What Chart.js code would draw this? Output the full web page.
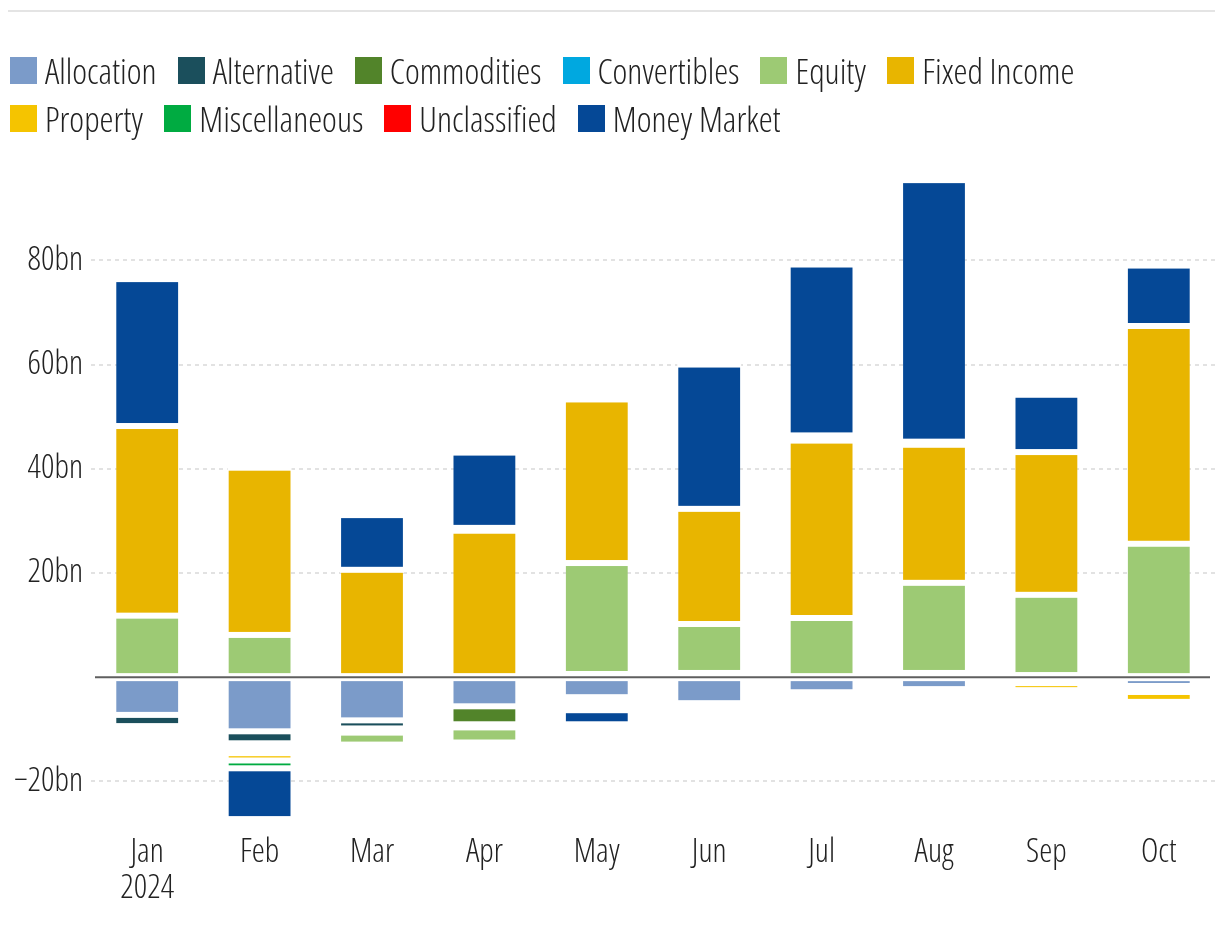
<!DOCTYPE html>
<html>
<head>
    <title>Monthly fund flows by category</title>
    <script src="https://cdn.jsdelivr.net/npm/chart.js"></script>
    <style>
        body {
            margin: 0;
            padding: 0;
            background-color: #ffffff;
            font-family: 'Open Sans', 'Noto Sans', sans-serif;
            font-stretch: condensed;
            font-weight: 300;
            color: #222222;
        }
        .wrap {
            position: relative;
            width: 1220px;
            height: 930px;
        }
        .top-rule {
            position: absolute;
            left: 8px;
            top: 10px;
            width: 1207px;
            height: 2px;
            background: #e4e4e4;
        }
        #legend {
            position: absolute;
            left: 10px;
            top: 56px;
            width: 1200px;
            display: flex;
            flex-wrap: wrap;
            z-index: 2;
        }
        .legend-item {
            display: flex;
            align-items: center;
            height: 28px;
            line-height: 28px;
            margin: 0 21px 20px 0;
            font-size: 35.3px;
            white-space: nowrap;
        }
        .legend-box {
            width: 27px;
            height: 27px;
            margin-right: 8px;
        }
        .legend-break {
            flex-basis: 100%;
            height: 0;
        }
        .chart-box {
            position: absolute;
            left: 0;
            top: 0;
            width: 1220px;
            height: 930px;
        }
    </style>
</head>
<body>
<div class="wrap">
    <div class="top-rule"></div>
    <div id="legend"></div>
    <div class="chart-box">
        <canvas id="flowChart"></canvas>
    </div>
</div>

<script>
    // months and the year shown under the first one
    const months = ['Jan', 'Feb', 'Mar', 'Apr', 'May', 'Jun', 'Jul', 'Aug', 'Sep', 'Oct'];
    const yearLabel = '2024';

    // net flows, bn
    const allocation    = [-7.25, -10.4, -8.3, -5.6, -3.85, -5.0, -2.9, -2.3, -1.15, -1.7];
    const alternative   = [-2.15, -2.3, -1.55, 0, -0.8, 0, 0, 0, 0, 0];
    const commodities   = [0, -0.95, -0.8, -3.45, -0.8, 0, 0, 0, 0, -1.15];
    const convertibles  = [0, -0.95, 0, -0.6, 0.6, 0.8, 0, 0.8, 0.4, 0];
    const equity        = [11.8, 8.1, -2.3, -2.9, 21.3, 9.4, 11.35, 17.3, 15.4, 25.6];
    const fixedIncome   = [36.4, 32.1, 20.6, 28.1, 31.4, 22.1, 34.05, 26.5, 27.4, 41.8];
    const property      = [0, -1.4, 0, 0.55, -0.9, 0, 1.0, 0.6, -1.35, -1.9];
    const miscellaneous = [0, -1.5, 0, 0, 0, 0, 0, 0, 0, 0];
    const unclassified  = [0, 0, 0, 0, 0, 0, 0, 0, 0, 0];
    const moneyMarket   = [28.2, -9.75, 10.5, 14.45, -2.7, 27.7, 32.8, 50.2, 11.0, 11.6];

    const seriesNames  = ['Allocation', 'Alternative', 'Commodities', 'Convertibles', 'Equity',
                          'Fixed Income', 'Property', 'Miscellaneous', 'Unclassified', 'Money Market'];
    const seriesValues = [allocation, alternative, commodities, convertibles, equity,
                          fixedIncome, property, miscellaneous, unclassified, moneyMarket];
    const seriesColors = ['#7b9bc9', '#1b4f5c', '#52842a', '#00a8e0', '#9dca74',
                          '#e8b500', '#f5c400', '#00ab41', '#ff0000', '#054896'];

    const yTickStep = 20;

    // legend (two rows, break after Fixed Income)
    const legendEl = document.getElementById('legend');
    seriesNames.forEach((name, i) => {
        const item = document.createElement('div');
        item.className = 'legend-item';
        const box = document.createElement('span');
        box.className = 'legend-box';
        box.style.background = seriesColors[i];
        item.appendChild(box);
        item.appendChild(document.createTextNode(name));
        legendEl.appendChild(item);
        if (i === 5) {
            const br = document.createElement('div');
            br.className = 'legend-break';
            legendEl.appendChild(br);
        }
    });

    // white gaps between stacked segments, zero line drawn on top
    const segmentGaps = {
        id: 'segmentGaps',
        afterDatasetsDraw(chart) {
            const ctx = chart.ctx;
            const gap = 3;
            ctx.save();
            ctx.fillStyle = '#ffffff';
            chart.data.datasets.forEach((ds, i) => {
                const meta = chart.getDatasetMeta(i);
                meta.data.forEach(bar => {
                    const p = bar.getProps(['x', 'y', 'base', 'width'], true);
                    const top = Math.min(p.y, p.base);
                    const bottom = Math.max(p.y, p.base);
                    const h = bottom - top;
                    if (h <= 0) return;
                    const left = p.x - p.width / 2 - 1;
                    const w = p.width + 2;
                    const outTop = Math.floor(top);
                    const outBottom = Math.ceil(bottom);
                    if (h <= 2 * gap) {
                        // too thin to show: blank it out in one go
                        ctx.fillRect(left, outTop, w, outBottom - outTop);
                    } else {
                        ctx.fillRect(left, outTop, w, top + gap - outTop);
                        ctx.fillRect(left, bottom - gap, w, outBottom - (bottom - gap));
                    }
                });
            });
            const y0 = chart.scales.y.getPixelForValue(0);
            ctx.strokeStyle = '#5f5f5f';
            ctx.lineWidth = 2;
            ctx.beginPath();
            ctx.moveTo(chart.chartArea.left + 4, y0);
            ctx.lineTo(chart.chartArea.right - 5, y0);
            ctx.stroke();
            ctx.restore();
        }
    };

    Chart.defaults.font.family = "'Open Sans', 'Noto Sans', sans-serif";
    Chart.defaults.font.weight = '300 condensed';
    Chart.defaults.color = '#222222';

    const ctx = document.getElementById('flowChart').getContext('2d');
    const chart = new Chart(ctx, {
        type: 'bar',
        data: {
            labels: months.map((m, i) => i === 0 ? [m, yearLabel] : m),
            datasets: seriesNames.map((name, i) => ({
                label: name,
                data: seriesValues[i],
                backgroundColor: seriesColors[i],
                borderWidth: 0,
                inflateAmount: 0,
                barPercentage: 0.55,
                categoryPercentage: 1
            }))
        },
        options: {
            responsive: true,
            maintainAspectRatio: false,
            animation: false,
            layout: {
                padding: { top: 177, right: 5, left: 0, bottom: 0 }
            },
            scales: {
                x: {
                    stacked: true,
                    grid: { display: false },
                    border: { display: false },
                    ticks: {
                        padding: 4,
                        font: { size: 33, lineHeight: 1.09 },
                        color: '#222222',
                        maxRotation: 0
                    },
                    afterFit: (scale) => { scale.height = 107; }
                },
                y: {
                    stacked: true,
                    min: -28,
                    max: 96,
                    afterBuildTicks: (axis) => {
                        axis.ticks = axis.ticks.filter(t => t.value % yTickStep === 0);
                    },
                    ticks: {
                        stepSize: yTickStep,
                        padding: 8,
                        font: { size: 33 },
                        color: '#222222',
                        callback: (v) => v === 0 ? '' : (v < 0 ? '\u2212' + Math.abs(v) : v) + 'bn'
                    },
                    grid: {
                        drawTicks: false,
                        lineWidth: 2,
                        color: (c) => c.tick && c.tick.value === 0 ? 'rgba(0,0,0,0)' : '#e2e2e2'
                    },
                    border: { display: false, dash: [4, 4] },
                    afterFit: (scale) => { scale.width = 91; }
                }
            },
            plugins: {
                legend: { display: false },
                tooltip: { enabled: false }
            }
        },
        plugins: [segmentGaps]
    });
</script>
</body>
</html>
